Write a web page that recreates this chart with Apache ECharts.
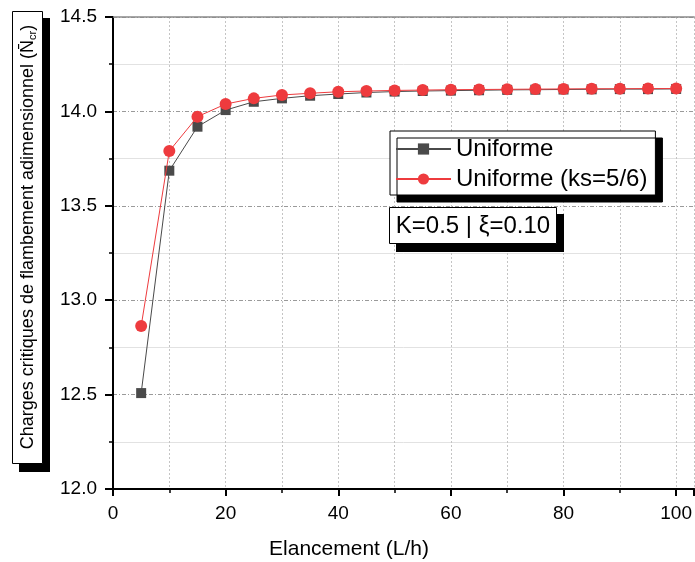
<!DOCTYPE html>
<html>
<head>
<meta charset="utf-8">
<script src="https://cdn.jsdelivr.net/npm/echarts@6/dist/echarts.min.js"></script>
<style>html,body{margin:0;padding:0;background:#fff;}#c{width:695px;height:562px;}</style>
</head>
<body>
<div id="c"></div>
<script>
const slenderness = [5, 10, 15, 20, 25, 30, 35, 40, 45, 50, 55, 60, 65, 70, 75, 80, 85, 90, 95, 100];
const uniforme = [12.508, 13.686, 13.919, 14.007, 14.051, 14.069, 14.083, 14.092, 14.100, 14.105, 14.108, 14.110, 14.112, 14.114, 14.115, 14.116, 14.117, 14.118, 14.118, 14.119];
const uniformeKs = [12.863, 13.790, 13.972, 14.039, 14.069, 14.087, 14.096, 14.104, 14.108, 14.111, 14.113, 14.115, 14.116, 14.117, 14.118, 14.119, 14.120, 14.120, 14.121, 14.121];
const seriesNames = ['Uniforme', 'Uniforme (ks=5/6)'];
const xTitle = 'Elancement (L/h)';
const yTitle = 'Charges critiques de flambement adimensionnel (';
const annotation = 'K=0.5 | ξ=0.10';

const FONT = "'Liberation Sans', Arial, sans-serif";
const chart = echarts.init(document.getElementById('c'), null, {renderer: 'canvas'});

const pairs = (ys) => slenderness.map((x, i) => [x, ys[i]]);

chart.setOption({
  animation: false,
  backgroundColor: '#fff',
  textStyle: {fontFamily: FONT},
  grid: {left: 113, right: 0, top: 17, bottom: 73, containLabel: false},
  xAxis: [{
    type: 'value', min: 0, max: 103.2, interval: 20,
    axisLine: {show: true, onZero: false, lineStyle: {color: '#000', width: 2}},
    axisTick: {show: true, length: 7, lineStyle: {color: '#000', width: 2}},
    minorTick: {show: true, splitNumber: 2, length: 4, lineStyle: {color: '#000', width: 1.5}},
    axisLabel: {fontSize: 19, color: '#000', margin: 15, fontFamily: FONT, showMaxLabel: false,
      formatter: v => (Math.abs(v % 20) < 1e-6 ? String(v) : '')},
    splitLine: {show: true, lineStyle: {color: '#c4c4c4', type: [2, 2], width: 1}},
    minorSplitLine: {show: true, lineStyle: {color: '#c4c4c4', type: [2, 2], width: 1}}
  }, {
    type: 'value', position: 'top', min: 0, max: 103.2,
    axisLine: {show: true, lineStyle: {color: '#8a8a8a', width: 1.5}},
    axisTick: {show: false}, axisLabel: {show: false}, splitLine: {show: false}
  }],
  yAxis: {
    type: 'value', min: 12.0, max: 14.5, interval: 0.5,
    axisLine: {show: true, onZero: false, lineStyle: {color: '#000', width: 2}},
    axisTick: {show: true, length: 8, lineStyle: {color: '#000', width: 2}},
    minorTick: {show: true, splitNumber: 2, length: 4, lineStyle: {color: '#000', width: 1.5}},
    axisLabel: {fontSize: 19, color: '#000', margin: 16, fontFamily: FONT, formatter: v => v.toFixed(1)},
    splitLine: {show: true, lineStyle: {color: '#9a9a9a', type: [4, 2, 1, 2], width: 1}},
    minorSplitLine: {show: true, lineStyle: {color: '#e2e2e2', type: 'solid', width: 1}}
  },
  legend: {
    left: 390, top: 131, orient: 'vertical',
    backgroundColor: '#fff', borderColor: '#000', borderWidth: 1,
    shadowColor: '#000', shadowBlur: 0, shadowOffsetX: 7, shadowOffsetY: 7,
    padding: [6, 8, 4, 5], itemGap: 6, itemWidth: 55, itemHeight: 14,
    textStyle: {fontSize: 24, color: '#000', fontFamily: FONT, lineHeight: 24, padding: [0, 0, 0, 0]},
    data: seriesNames
  },
  series: [{
    name: seriesNames[0], type: 'line', data: pairs(uniforme),
    symbol: 'rect', symbolSize: 10,
    lineStyle: {color: '#4a4a4a', width: 1},
    itemStyle: {color: '#4a4a4a'}, z: 2
  }, {
    name: seriesNames[1], type: 'line', data: pairs(uniformeKs),
    symbol: 'circle', symbolSize: 12,
    lineStyle: {color: '#ee3b3e', width: 1},
    itemStyle: {color: '#ee3b3e'}, z: 3
  }],
  graphic: [
    {type: 'rect', shape: {x: 19, y: 18, width: 31, height: 454}, style: {fill: '#000'}, z: 10},
    {type: 'rect', shape: {x: 12.5, y: 11.5, width: 30, height: 452}, style: {fill: '#fff', stroke: '#000', lineWidth: 1}, z: 11},
    {type: 'text', x: 28, y: 237, rotation: Math.PI / 2, z: 12,
      style: {text: '{m|' + yTitle + '}{n|N̄}{s|cr}{m|)}', align: 'center', verticalAlign: 'middle',
        rich: {m: {fontSize: 18, fontFamily: FONT, fill: '#000'}, n: {fontSize: 18, fontFamily: FONT, fill: '#000'},
          s: {fontSize: 11, fontFamily: FONT, fill: '#000', padding: [9, 0, 0, 0]}}}},
    {type: 'rect', shape: {x: 396, y: 214, width: 168, height: 38}, style: {fill: '#000'}, z: 10},
    {type: 'rect', shape: {x: 389.5, y: 207.5, width: 167, height: 36}, style: {fill: '#fff', stroke: '#000', lineWidth: 1}, z: 11},
    {type: 'text', x: 473, y: 226, z: 12,
      style: {text: annotation, fontSize: 24, fontFamily: FONT, fill: '#000', align: 'center', verticalAlign: 'middle'}},
    {type: 'text', x: 349, y: 549, z: 12,
      style: {text: xTitle, fontSize: 21, fontFamily: FONT, fill: '#000', align: 'center', verticalAlign: 'middle'}}
  ]
});
</script>
</body>
</html>
